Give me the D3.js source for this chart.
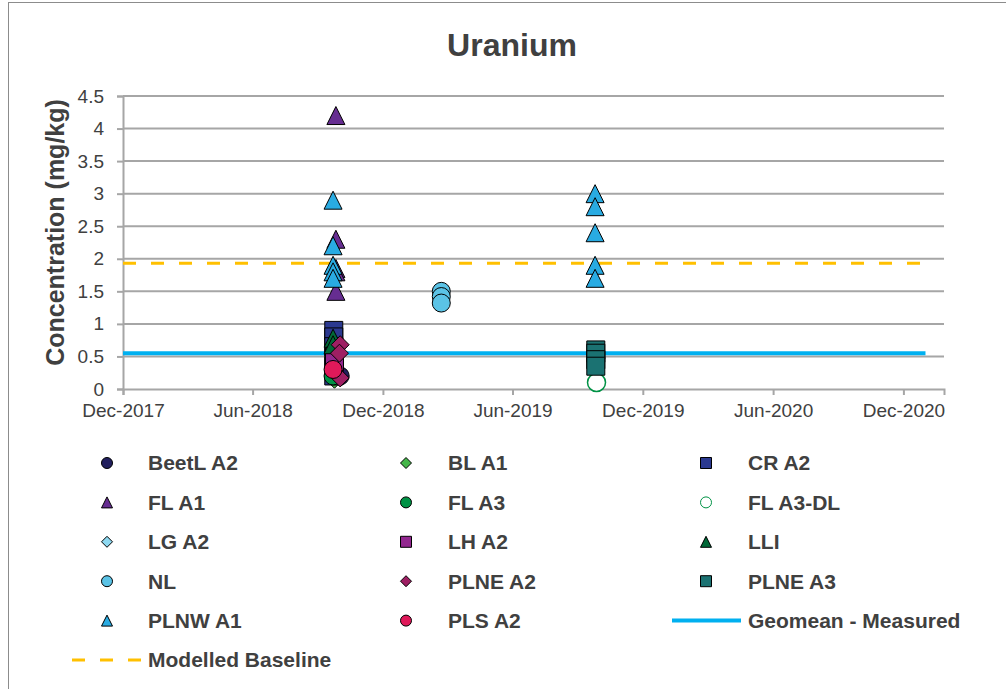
<!DOCTYPE html>
<html>
<head>
<meta charset="utf-8">
<script src="https://cdn.jsdelivr.net/npm/d3@7"></script>
<style>
  body { margin: 0; background: #fff; }
  svg { display: block; font-family: "Liberation Sans", Arial, sans-serif; }
</style>
</head>
<body>
<svg id="chart" width="1006" height="689"></svg>
<script>
// ---- data: sampling date, uranium concentration (mg/kg) ----
const beetlA2   = [["2018-10-02", 0.2]];
const blA1      = [["2018-09-24", 0.15]];
const crA2      = [["2018-09-23", 0.9], ["2018-09-23", 0.8], ["2018-09-23", 0.65], ["2018-09-23", 0.5], ["2018-09-23", 0.35], ["2018-09-23", 0.2]];
const flA1      = [["2018-09-26", 4.2], ["2018-09-26", 2.3], ["2018-09-26", 1.85], ["2018-09-26", 1.8], ["2018-09-26", 1.5]];
const flA3      = [["2018-09-22", 0.2]];
const flA3DL    = [["2019-09-27", 0.1]];
const lgA2      = [["2018-09-23", 0.3]];
const lhA2      = [["2018-09-24", 0.5], ["2018-09-24", 0.42]];
const lli       = [["2018-09-22", 0.78], ["2018-09-22", 0.68]];
const nl        = [["2019-02-21", 1.5], ["2019-02-21", 1.42], ["2019-02-21", 1.32]];
const plneA2    = [["2018-10-02", 0.68], ["2018-10-01", 0.55], ["2018-10-02", 0.17]];
const plneA3    = [["2019-09-26", 0.6], ["2019-09-26", 0.55], ["2019-09-26", 0.45], ["2019-09-26", 0.35]];
const plnwA1    = [["2018-09-22", 2.9], ["2018-09-22", 2.2], ["2018-09-22", 1.9], ["2018-09-22", 1.8], ["2018-09-22", 1.7],
                   ["2019-09-25", 3.0], ["2019-09-25", 2.8], ["2019-09-25", 2.4], ["2019-09-25", 1.9], ["2019-09-25", 1.7]];
const plsA2     = [["2018-09-22", 0.3]];

const geomeanMeasured  = [["2017-12-01", 0.55], ["2021-01-01", 0.55]];
const modelledBaseline = [["2017-12-01", 1.93], ["2021-01-01", 1.93]];

const yTicks = [0, 0.5, 1, 1.5, 2, 2.5, 3, 3.5, 4, 4.5];
const xTickDates = ["2017-12-01", "2018-06-01", "2018-12-01", "2019-06-01", "2019-12-01", "2020-06-01", "2020-12-01"];

// series table: name, points, marker shape, fill, stroke
const pointSeries = [
  { name: "BeetL A2",  data: beetlA2, shape: "circle",   fill: "#221f5e", stroke: "#000" },
  { name: "BL A1",     data: blA1,    shape: "diamond",  fill: "#45b649", stroke: "#000" },
  { name: "CR A2",     data: crA2,    shape: "square",   fill: "#2b3990", stroke: "#000" },
  { name: "FL A1",     data: flA1,    shape: "triangle", fill: "#662d91", stroke: "#000" },
  { name: "FL A3",     data: flA3,    shape: "circle",   fill: "#009245", stroke: "#000" },
  { name: "FL A3-DL",  data: flA3DL,  shape: "circle",   fill: "#ffffff", stroke: "#009245" },
  { name: "LG A2",     data: lgA2,    shape: "diamond",  fill: "#8ed8f0", stroke: "#000" },
  { name: "LH A2",     data: lhA2,    shape: "square",   fill: "#92278f", stroke: "#000" },
  { name: "LLI",       data: lli,     shape: "triangle", fill: "#006837", stroke: "#000" },
  { name: "NL",        data: nl,      shape: "circle",   fill: "#5bc3e6", stroke: "#000" },
  { name: "PLNE A2",   data: plneA2,  shape: "diamond",  fill: "#9e1f63", stroke: "#000" },
  { name: "PLNE A3",   data: plneA3,  shape: "square",   fill: "#1b7272", stroke: "#000" },
  { name: "PLNW A1",   data: plnwA1,  shape: "triangle", fill: "#29abe2", stroke: "#000" },
  { name: "PLS A2",    data: plsA2,   shape: "circle",   fill: "#e0195a", stroke: "#000" }
];
const lineSeries = [
  { name: "Geomean - Measured", data: geomeanMeasured,  color: "#00b0f0", width: 4, dash: null },
  { name: "Modelled Baseline",  data: modelledBaseline, color: "#ffc000", width: 3, dash: "13,15" }
];

// ---- marker shapes, size = full width in px ----
const shapes = {
  circle:   { draw(ctx, s) { const r = s / 2; ctx.moveTo(r, 0); ctx.arc(0, 0, r, 0, 2 * Math.PI); } },
  square:   { draw(ctx, s) { const h = s / 2; ctx.rect(-h, -h, s, s); } },
  diamond:  { draw(ctx, s) { const h = s / 2; ctx.moveTo(0, -h); ctx.lineTo(h, 0); ctx.lineTo(0, h); ctx.lineTo(-h, 0); ctx.closePath(); } },
  triangle: { draw(ctx, s) { const h = s / 2; ctx.moveTo(0, -h); ctx.lineTo(h, h); ctx.lineTo(-h, h); ctx.closePath(); } }
};

const parse = d3.utcParse("%Y-%m-%d");
const svg = d3.select("#chart");

// outer chart frame
svg.append("rect").attr("x", 8.5).attr("y", 2.5).attr("width", 1010).attr("height", 700)
  .attr("fill", "#fff").attr("stroke", "#8c8c8c").attr("stroke-width", 1);

const plot = { left: 123, right: 944, top: 96, bottom: 389 };

const x = d3.scaleUtc()
  .domain([parse("2017-12-01"), parse("2021-01-27")])
  .range([plot.left, plot.right]);
const y = d3.scaleLinear().domain([0, 4.5]).range([plot.bottom, plot.top]);

// title
svg.append("text").attr("x", 512).attr("y", 56).attr("text-anchor", "middle")
  .attr("font-size", 32).attr("font-weight", "bold").attr("fill", "#404040").text("Uranium");

// horizontal gridlines
svg.append("g").selectAll("line").data(yTicks.filter(d => d > 0)).join("line")
  .attr("x1", plot.left).attr("x2", plot.right)
  .attr("y1", d => y(d)).attr("y2", d => y(d))
  .attr("stroke", "#a6a6a6").attr("stroke-width", 2);

// y axis
const yAxis = svg.append("g").attr("transform", `translate(${plot.left},0)`)
  .call(d3.axisLeft(y).tickValues(yTicks).tickSize(6).tickPadding(13).tickFormat(d3.format("")));
// x axis
const xAxis = svg.append("g").attr("transform", `translate(0,${plot.bottom})`)
  .call(d3.axisBottom(x).tickValues(xTickDates.map(parse)).tickSize(6).tickPadding(6)
    .tickFormat(d3.utcFormat("%b-%Y")));
[yAxis, xAxis].forEach(a => {
  a.select(".domain").attr("stroke", "#a6a6a6").attr("stroke-width", 2);
  a.selectAll(".tick line").attr("stroke", "#a6a6a6").attr("stroke-width", 2);
  a.selectAll(".tick text").attr("fill", "#404040").attr("font-size", 19)
    .attr("font-family", "Liberation Sans, Arial, sans-serif");
});
xAxis.selectAll(".tick text").attr("dy", "0.85em");

// y axis title
svg.append("text")
  .attr("transform", `translate(64,${(plot.top + plot.bottom) / 2 - 10}) rotate(-90)`)
  .attr("text-anchor", "middle").attr("font-size", 25).attr("font-weight", "bold")
  .attr("fill", "#404040").text("Concentration (mg/kg)");

// reference lines
const line = d3.line().x(d => x(parse(d[0]))).y(d => y(d[1]));
svg.append("g").selectAll("path").data(lineSeries).join("path")
  .attr("d", s => line(s.data)).attr("fill", "none")
  .attr("stroke", s => s.color).attr("stroke-width", s => s.width)
  .attr("stroke-dasharray", s => s.dash);

// sample markers
const markerSize = 18;
pointSeries.forEach(s => {
  const sym = d3.symbol().type(shapes[s.shape]).size(markerSize);
  svg.append("g").selectAll("path").data(s.data).join("path")
    .attr("transform", d => `translate(${x(parse(d[0]))},${y(d[1])})`)
    .attr("d", sym).attr("fill", s.fill).attr("stroke", s.stroke).attr("stroke-width", s.fill === "#ffffff" ? 1.5 : 1);
});

// legend
const legendItems = pointSeries.map(s => ({ kind: "point", ...s }))
  .concat(lineSeries.map(s => ({ kind: "line", ...s })));
const colMarkerX = [107, 406, 706];
const colTextX = [148, 448, 748];
const rowY = i => 463 + i * 39.4;
const legend = svg.append("g");
legendItems.forEach((it, i) => {
  const col = i % 3, row = Math.floor(i / 3);
  const cy = rowY(row);
  if (it.kind === "point") {
    legend.append("path")
      .attr("transform", `translate(${colMarkerX[col]},${cy})`)
      .attr("d", d3.symbol().type(shapes[it.shape]).size(11))
      .attr("fill", it.fill).attr("stroke", it.stroke).attr("stroke-width", 1);
  } else {
    legend.append("line")
      .attr("x1", colTextX[col] - 76).attr("x2", colTextX[col] - 7)
      .attr("y1", cy).attr("y2", cy)
      .attr("stroke", it.color).attr("stroke-width", it.width)
      .attr("stroke-dasharray", it.dash);
  }
  legend.append("text").attr("x", colTextX[col]).attr("y", cy).attr("dy", "0.35em")
    .attr("font-size", 21).attr("font-weight", "bold").attr("fill", "#404040").text(it.name);
});
</script>
</body>
</html>
